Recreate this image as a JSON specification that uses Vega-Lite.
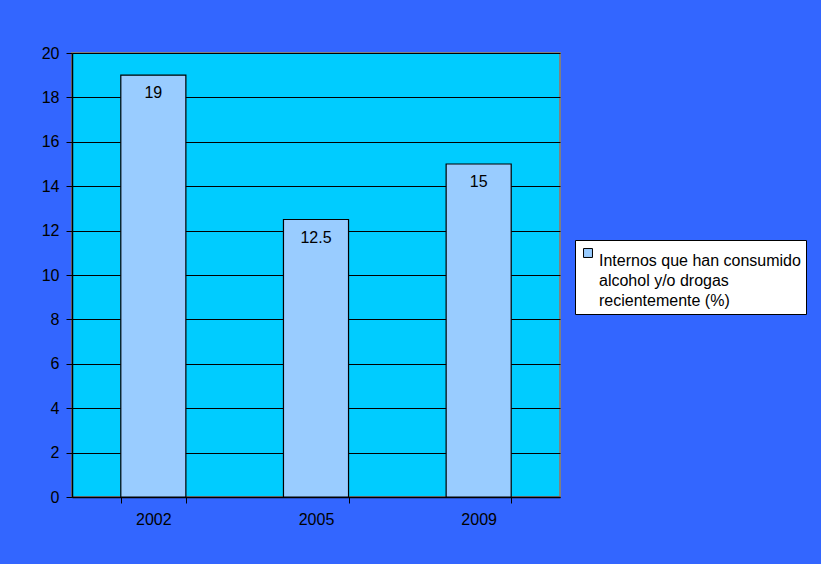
{
  "$schema": "https://vega.github.io/schema/vega-lite/v6.json",
  "width": 488,
  "height": 444,
  "autosize": {"type": "none"},
  "padding": {"left": 72, "top": 53, "right": 261, "bottom": 67},
  "background": "#3366FF",
  "config": {
    "font": "Liberation Sans",
    "view": {"fill": "#00CCFF", "stroke": "#808080", "strokeWidth": 2}
  },
  "data": {
    "values": [
      {"year": "2002", "value": 19, "series": "Internos que han consumido|alcohol y/o drogas|recientemente (%)"},
      {"year": "2005", "value": 12.5, "series": "Internos que han consumido|alcohol y/o drogas|recientemente (%)"},
      {"year": "2009", "value": 15, "series": "Internos que han consumido|alcohol y/o drogas|recientemente (%)"}
    ]
  },
  "encoding": {
    "x": {
      "field": "year",
      "type": "nominal",
      "scale": {"paddingInner": 0.6, "paddingOuter": 0.3},
      "axis": {
        "title": null,
        "labelAngle": 0,
        "labelFontSize": 16,
        "labelColor": "#000000",
        "labelPadding": 8,
        "tickBand": "extent",
        "tickColor": "#000000",
        "tickSize": 6,
        "domainColor": "#000000",
        "domainWidth": 1.5
      }
    },
    "y": {
      "field": "value",
      "type": "quantitative",
      "scale": {"domain": [0, 20], "nice": false},
      "axis": {
        "title": null,
        "values": [0, 2, 4, 6, 8, 10, 12, 14, 16, 18, 20],
        "labelFontSize": 16,
        "labelColor": "#000000",
        "labelPadding": 7,
        "tickColor": "#000000",
        "tickSize": 6,
        "domainColor": "#000000",
        "domainWidth": 1.5,
        "gridColor": "#000000",
        "gridWidth": 1
      }
    }
  },
  "layer": [
    {
      "mark": {"type": "bar", "fill": "#99CCFF", "stroke": "#000000", "strokeWidth": 1.2},
      "encoding": {
        "fill": {
          "field": "series",
          "type": "nominal",
          "scale": {"range": ["#99CCFF"]},
          "legend": {
            "title": null,
            "orient": "none",
            "legendX": 503,
            "legendY": 187,
            "symbolType": "square",
            "symbolSize": 80,
            "symbolStrokeColor": "#000000",
            "symbolStrokeWidth": 1,
            "labelFontSize": 16,
            "labelColor": "#000000",
            "labelLimit": 400,
            "labelExpr": "split(datum.label, '|')",
            "labelBaseline": "top",
            "labelOffset": 3,
            "fillColor": "#FFFFFF",
            "strokeColor": "#000000",
            "padding": 5,
            "encode": {"labels": {"update": {"lineHeight": {"value": 20}}}}
          }
        }
      }
    },
    {
      "mark": {"type": "text", "baseline": "top", "dy": 10, "fontSize": 16, "color": "#000000"},
      "encoding": {
        "text": {"field": "value", "type": "quantitative"}
      }
    }
  ]
}
